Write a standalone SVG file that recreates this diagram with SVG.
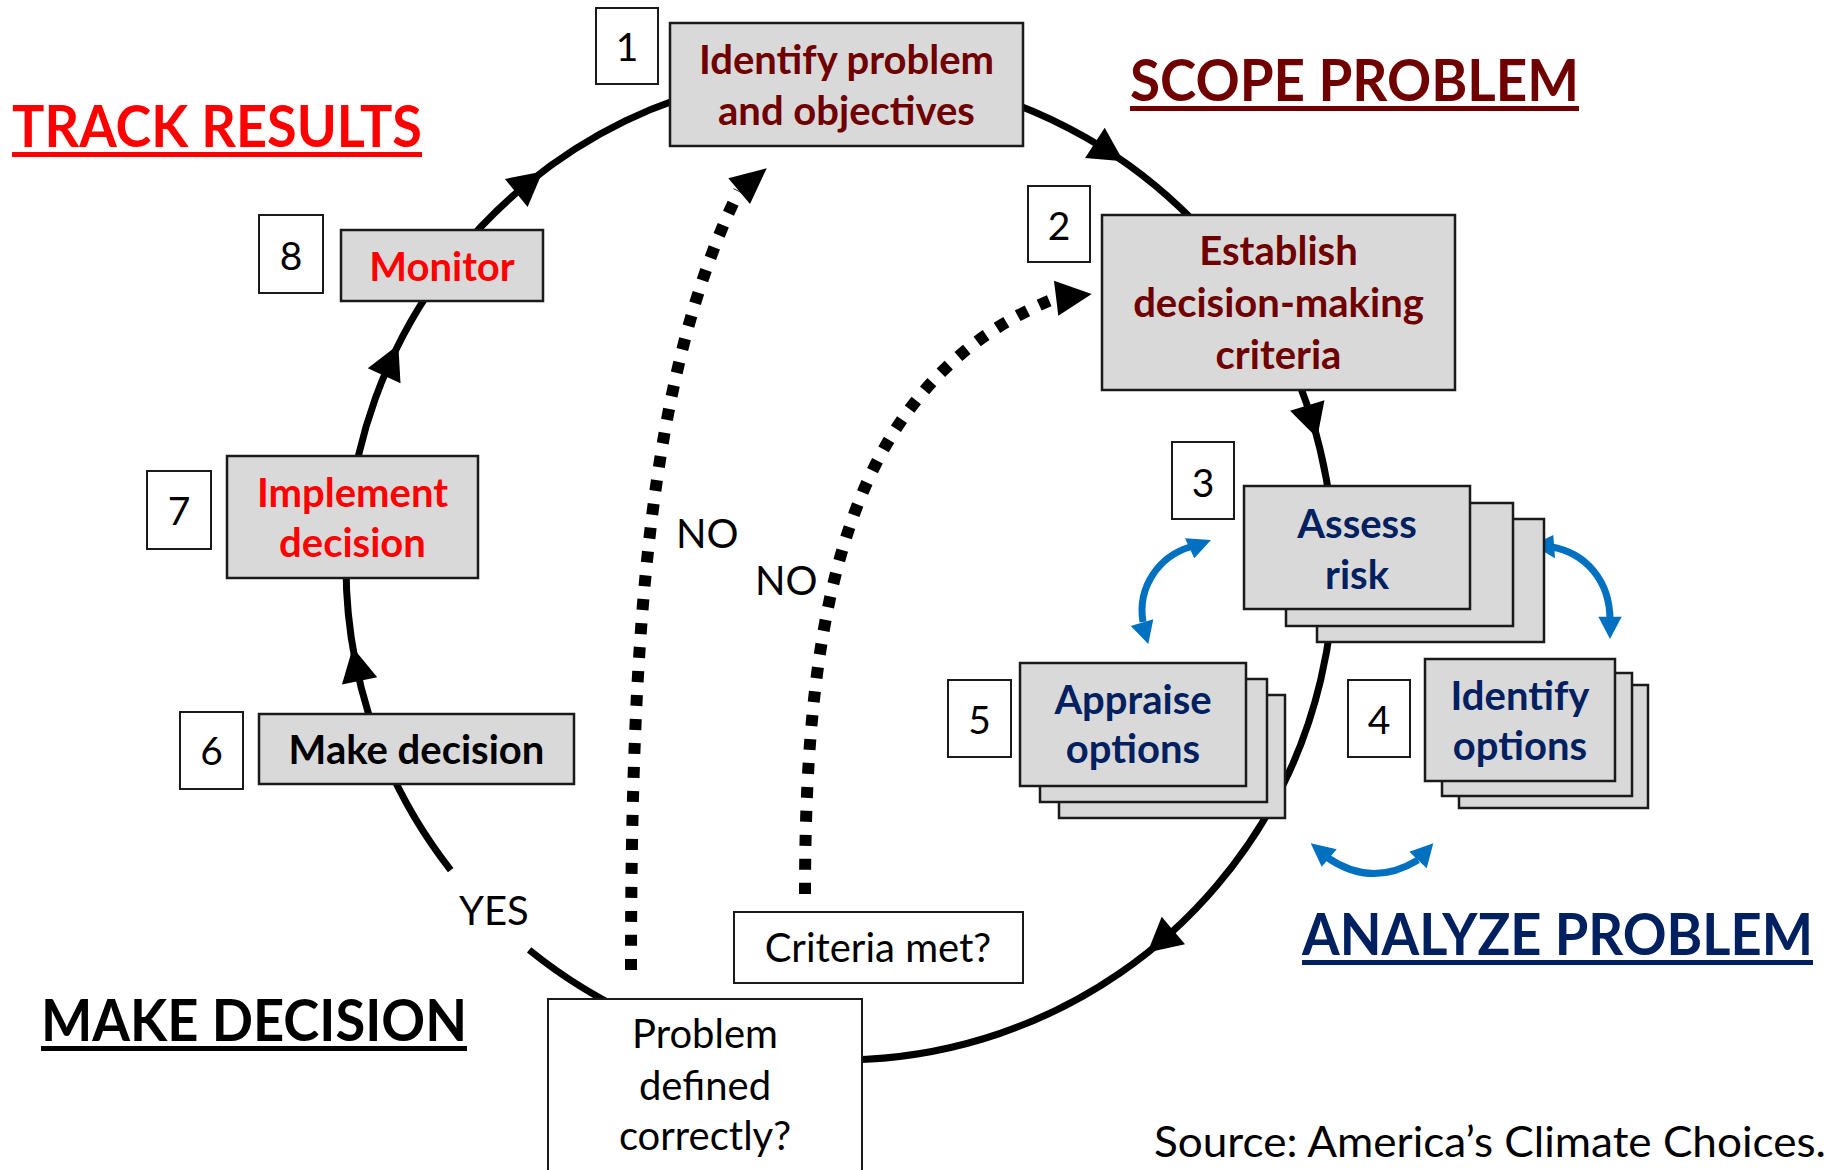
<svg xmlns="http://www.w3.org/2000/svg" width="1832" height="1170" viewBox="0 0 1832 1170">
<style>
.box{fill:#d9d9d9;stroke:#1a1a1a;stroke-width:2.5}
.num{fill:#fff;stroke:#1a1a1a;stroke-width:2}
.t{font-family:Lato,"Open Sans","Liberation Sans",sans-serif}
.lbl{font-size:40px;font-weight:700;text-anchor:middle}
.numt{font-size:39px;text-anchor:middle;fill:#000}
.reg{font-size:40px;fill:#000}
.title{font-size:58px;font-weight:700}
.dr{fill:#700000}
.nv{fill:#002060}
.rd{fill:#ff0000}
.ring{fill:none;stroke:#000;stroke-width:7}
.dot{fill:none;stroke:#000;stroke-width:12;stroke-dasharray:11 13}
.blue{fill:none;stroke:#0070c0;stroke-width:7}
.bh{fill:#0070c0}
.ah{fill:#000}
</style>
<defs>
<polygon id="head" points="0,0 -34,-18 -34,18"/>
</defs>
<rect width="1832" height="1170" fill="#fff"/>

<g id="connectors">
<path class="ring" d="M 450.7 870.1 A 494 494 0 1 1 529.1 949.9"/>
<use href="#head" class="ah" transform="translate(1123.4,161.3) rotate(33)"/>
<use href="#head" class="ah" transform="translate(1317.2,438.1) rotate(73)"/>
<use href="#head" class="ah" transform="translate(1147.5,952.6) rotate(139.5)"/>
<use href="#head" class="ah" transform="translate(352.8,647.5) rotate(258.5)"/>
<use href="#head" class="ah" transform="translate(398.3,344.8) rotate(294.6)"/>
<use href="#head" class="ah" transform="translate(542.7,171.5) rotate(321)"/>
<path class="dot" d="M 631 970 C 631 640, 648 375, 739 191"/>
<polygon class="ah" points="766.7,168.3 728.3,178.3 750,204"/>
<path class="dot" d="M 805 894 C 805 600, 850 380, 1056 298"/>
<polygon class="ah" points="1091.7,294 1054,280.7 1058.3,315.7"/>
<path class="blue" d="M 1143 622 C 1137 586, 1160 556, 1190 547"/>
<polygon class="bh" points="1148.3,644 1130.7,626 1153.3,619.3"/>
<polygon class="bh" points="1211,540 1185,538.3 1194.3,558.3"/>
<path class="blue" d="M 1552 547 C 1585 553, 1610 580, 1610 620"/>
<polygon class="bh" points="1532.7,545 1553.3,535 1555,558.3"/>
<polygon class="bh" points="1610,639 1598.3,616.7 1621.7,616.7"/>
<path class="blue" d="M 1328 858 Q 1372 888 1418 860"/>
<polygon class="bh" points="1310.7,843.3 1321.7,866.7 1336.7,849.3"/>
<polygon class="bh" points="1433.3,843.3 1409.3,851.7 1426.7,868.3"/>
</g>

<g id="title-track">
<text class="t title rd" x="12" y="147" textLength="410" lengthAdjust="spacingAndGlyphs">TRACK RESULTS</text>
<rect x="12" y="152" width="410" height="5" fill="#ff0000"/>
</g>
<g id="title-scope">
<text class="t title dr" x="1130" y="101" textLength="449" lengthAdjust="spacingAndGlyphs">SCOPE PROBLEM</text>
<rect x="1130" y="106" width="449" height="5" fill="#700000"/>
</g>
<g id="title-analyze">
<text class="t title nv" x="1813" y="955" text-anchor="end" textLength="511" lengthAdjust="spacingAndGlyphs">ANALYZE PROBLEM</text>
<rect x="1302" y="960" width="511" height="5" fill="#002060"/>
</g>
<g id="title-make">
<text class="t title" x="41" y="1041" fill="#000" textLength="426" lengthAdjust="spacingAndGlyphs">MAKE DECISION</text>
<rect x="41" y="1046" width="426" height="5" fill="#000"/>
</g>

<g id="node1">
<rect class="num" x="596" y="8" width="62" height="76"/>
<text class="t numt" x="627" y="61">1</text>
<rect class="box" x="670" y="23" width="353" height="123"/>
<text class="t lbl dr" x="846.5" y="74">Identify problem</text>
<text class="t lbl dr" x="846.5" y="125">and objectives</text>
</g>

<g id="node2">
<rect class="num" x="1028" y="186" width="62" height="76"/>
<text class="t numt" x="1059" y="240">2</text>
<rect class="box" x="1102" y="215" width="353" height="175"/>
<text class="t lbl dr" x="1278.5" y="265">Establish</text>
<text class="t lbl dr" x="1278.5" y="317">decision-making</text>
<text class="t lbl dr" x="1278.5" y="369">criteria</text>
</g>

<g id="node3">
<rect class="num" x="1172" y="442" width="62" height="77"/>
<text class="t numt" x="1203" y="497">3</text>
<rect class="box" x="1317" y="519" width="227" height="123"/>
<rect class="box" x="1286" y="503" width="227" height="123"/>
<rect class="box" x="1244" y="486" width="226" height="123"/>
<text class="t lbl nv" x="1357" y="538">Assess</text>
<text class="t lbl nv" x="1357" y="589">risk</text>
</g>

<g id="node4">
<rect class="num" x="1348" y="680" width="62" height="77"/>
<text class="t numt" x="1379" y="734">4</text>
<rect class="box" x="1459" y="685" width="189" height="123"/>
<rect class="box" x="1442" y="673" width="190" height="123"/>
<rect class="box" x="1425" y="659" width="190" height="122"/>
<text class="t lbl nv" x="1520" y="710">Identify</text>
<text class="t lbl nv" x="1520" y="760">options</text>
</g>

<g id="node5">
<rect class="num" x="948" y="680" width="63" height="77"/>
<text class="t numt" x="979.5" y="734">5</text>
<rect class="box" x="1059" y="695" width="226" height="123"/>
<rect class="box" x="1040" y="679" width="227" height="123"/>
<rect class="box" x="1020" y="663" width="226" height="123"/>
<text class="t lbl nv" x="1133" y="714">Appraise</text>
<text class="t lbl nv" x="1133" y="763">options</text>
</g>

<g id="node6">
<rect class="num" x="180" y="712" width="63" height="77"/>
<text class="t numt" x="211.5" y="765">6</text>
<rect class="box" x="259" y="714" width="315" height="70"/>
<text class="t lbl" x="416.5" y="764" fill="#000">Make decision</text>
</g>

<g id="node7">
<rect class="num" x="147" y="471" width="64" height="78"/>
<text class="t numt" x="179" y="525">7</text>
<rect class="box" x="227" y="456" width="251" height="122"/>
<text class="t lbl rd" x="352.5" y="507">Implement</text>
<text class="t lbl rd" x="352.5" y="557">decision</text>
</g>

<g id="node8">
<rect class="num" x="259" y="215" width="64" height="78"/>
<text class="t numt" x="291" y="270">8</text>
<rect class="box" x="341" y="230" width="202" height="71"/>
<text class="t lbl rd" x="442" y="281">Monitor</text>
</g>

<g id="criteria-met">
<rect x="734" y="912" width="289" height="71" fill="#fff" stroke="#1a1a1a" stroke-width="2"/>
<text class="t reg" x="878" y="962" text-anchor="middle">Criteria met?</text>
</g>

<g id="problem-defined">
<rect x="548" y="999" width="314" height="190" fill="#fff" stroke="#1a1a1a" stroke-width="2"/>
<text class="t reg" x="705" y="1048" text-anchor="middle">Problem</text>
<text class="t reg" x="705" y="1100" text-anchor="middle">defined</text>
<text class="t reg" x="705" y="1150" text-anchor="middle">correctly?</text>
</g>

<g id="labels">
<text class="t reg" x="676" y="548">NO</text>
<text class="t reg" x="755" y="595">NO</text>
<text class="t reg" x="459" y="925">YES</text>
<text class="t" x="1154" y="1157" font-size="42" fill="#000" textLength="672" lengthAdjust="spacingAndGlyphs">Source: America’s Climate Choices.</text>
</g>
</svg>
